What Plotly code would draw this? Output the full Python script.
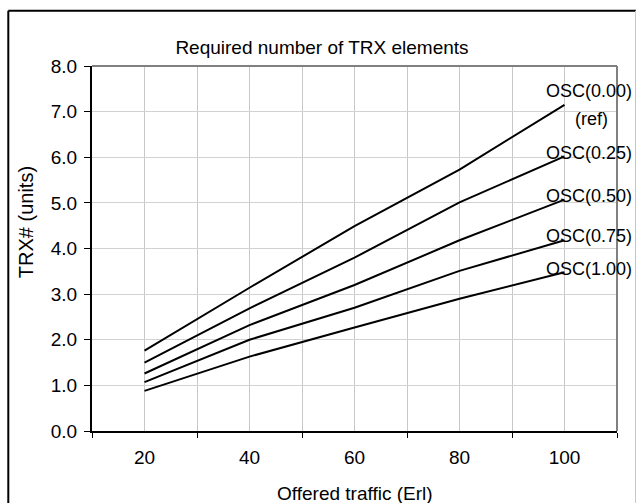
import plotly.graph_objects as go

# Offered traffic (Erl) and required transceivers per overlay scheme
traffic = [20, 40, 60, 80, 100]
series_names = ["OSC(0.00)", "OSC(0.25)", "OSC(0.50)", "OSC(0.75)", "OSC(1.00)"]
osc_000 = [1.76, 3.14, 4.49, 5.73, 7.15]
osc_025 = [1.50, 2.69, 3.80, 5.01, 6.02]
osc_050 = [1.26, 2.32, 3.20, 4.18, 5.07]
osc_075 = [1.07, 2.00, 2.70, 3.51, 4.18]
osc_100 = [0.88, 1.63, 2.27, 2.90, 3.48]
series_values = [osc_000, osc_025, osc_050, osc_075, osc_100]

y_ticks = [0, 1, 2, 3, 4, 5, 6, 7, 8]
category_edges = [10, 30, 50, 70, 90, 110]

FONT = "Liberation Sans, Arial, sans-serif"

W, H = 636, 503
ML, MR, MT, MB = 92, 19, 66, 72
PW, PH = W - ML - MR, H - MT - MB


def px_x(px):
    return (px - ML) / PW


def px_y(py):
    return (H - MB - py) / PH


fig = go.Figure()
for name, vals in zip(series_names, series_values):
    fig.add_trace(go.Scatter(
        x=traffic, y=vals, mode="lines", name=name,
        line=dict(color="black", width=2),
    ))

# series labels next to the last point of every line
label_shift = {"OSC(0.00)": 14, "OSC(0.25)": 3, "OSC(0.50)": 4,
               "OSC(0.75)": 4, "OSC(1.00)": 3}
annotations = []
for name, vals in zip(series_names, series_values):
    annotations.append(dict(
        x=traffic[-1], y=vals[-1], xref="x", yref="y", text=name,
        showarrow=False, xshift=24, yshift=label_shift[name],
        font=dict(family=FONT, size=18, color="black"),
        xanchor="center", yanchor="middle",
    ))
annotations.append(dict(
    x=traffic[-1], y=osc_000[-1], xref="x", yref="y", text="(ref)",
    showarrow=False, xshift=27, yshift=-14,
    font=dict(family=FONT, size=18, color="black"),
    xanchor="center", yanchor="middle",
))
# axis titles
annotations.append(dict(
    x=0.5, y=px_y(493.5), xref="paper", yref="paper",
    text="Offered traffic (Erl)", showarrow=False,
    font=dict(family=FONT, size=19, color="black"),
    xanchor="center", yanchor="middle",
))
annotations.append(dict(
    x=px_x(26.7), y=px_y(222.5), xref="paper", yref="paper",
    text="TRX# (units)", showarrow=False, textangle=-90,
    font=dict(family=FONT, size=20, color="black"),
    xanchor="center", yanchor="middle",
))

shapes = [
    # gray plot-area border on top and right
    dict(type="line", xref="paper", yref="paper", x0=0, x1=1, y0=1, y1=1,
         line=dict(color="#808080", width=2), layer="above"),
    dict(type="line", xref="paper", yref="paper", x0=1, x1=1, y0=0, y1=1,
         line=dict(color="#808080", width=2), layer="above"),
    # chart frame
    dict(type="line", xref="paper", yref="paper",
         x0=px_x(8.3), x1=px_x(8.3), y0=px_y(10.7), y1=px_y(520),
         line=dict(color="black", width=2), layer="above"),
    dict(type="line", xref="paper", yref="paper",
         x0=px_x(8.3), x1=px_x(640), y0=px_y(10.7), y1=px_y(10.7),
         line=dict(color="black", width=2), layer="above"),
    dict(type="line", xref="paper", yref="paper",
         x0=px_x(635.5), x1=px_x(635.5), y0=px_y(10.7), y1=px_y(520),
         line=dict(color="#c8c8c8", width=1), layer="above"),
]

fig.update_layout(
    width=W, height=H,
    margin=dict(l=ML, r=MR, t=MT, b=MB, pad=0),
    paper_bgcolor="white", plot_bgcolor="white",
    showlegend=False,
    font=dict(family=FONT, size=19, color="black"),
    title=dict(text="Required number of TRX elements",
               xref="container", yref="container",
               x=322 / W, y=1 - 47.4 / H, xanchor="center", yanchor="middle",
               font=dict(family=FONT, size=19, color="black")),
    xaxis=dict(
        range=[category_edges[0], category_edges[-1]],
        tickvals=traffic, ticktext=[str(t) for t in traffic],
        ticks="", showgrid=True, gridcolor="#c8c8c8", gridwidth=1,
        showline=True, linecolor="black", linewidth=2,
        zeroline=False, ticklabelstandoff=8,
        tickfont=dict(family=FONT, size=19, color="black"),
        minor=dict(tickvals=category_edges, ticks="outside", ticklen=5,
                   tickcolor="black", tickwidth=1,
                   showgrid=True, gridcolor="#c8c8c8", gridwidth=1),
    ),
    yaxis=dict(
        range=[0, 8], tickvals=y_ticks, tickformat=".1f",
        ticks="outside", ticklen=6, tickcolor="black", tickwidth=1,
        showgrid=True, gridcolor="#d2d2d2", gridwidth=1,
        showline=True, linecolor="black", linewidth=2,
        zeroline=False, ticklabelstandoff=3,
        tickfont=dict(family=FONT, size=19, color="black"),
    ),
    annotations=annotations,
    shapes=shapes,
)

fig.write_html("out.html")
